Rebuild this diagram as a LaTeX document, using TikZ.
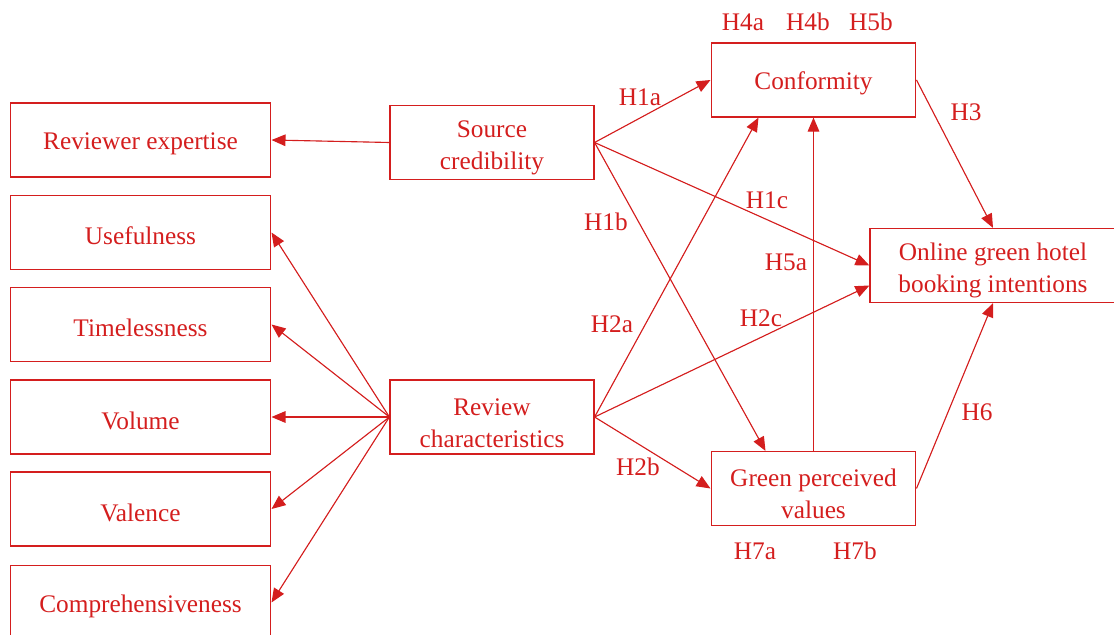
\documentclass[tikz,border=0pt]{standalone}
\usepackage{fontspec}
\setmainfont{Liberation Serif}
\usetikzlibrary{arrows.meta,positioning,calc}
\definecolor{diagred}{RGB}{212,30,30}
\newcommand\diagfont{\fontsize{18}{22.8}\selectfont}
\tikzset{
  >={Triangle[length=3.5mm,width=2.9mm]},
  box/.style={draw=diagred,text=diagred,line width=0.8pt,inner sep=0pt,
    minimum width=#1,minimum height=1.85cm,align=center,font=\diagfont,
    execute at begin node={\rule{0pt}{17.5pt}}},
  box/.default=6.52cm,
  twoline/.style={execute at begin node={\rule{0pt}{43pt}}},
  flow/.style={->,line width=0.8pt,draw=diagred,fill=diagred},
  hyp/.style={text=diagred,font=\diagfont,inner sep=0pt},
}
\begin{document}
\begin{tikzpicture}[x=0.025cm,y=-0.025cm]
    \useasboundingbox (0,0) rectangle (1114,635);
    % measurement items
    \node[box] (expert) at (140.5,140) {Reviewer expertise};
    \node[box] (useful) at (140.5,232.5) {Usefulness};
    \node[box] (timeless) at (140.5,324.5) {Timelessness};
    \node[box] (volume) at (140.5,417) {Volume};
    \node[box] (valence) at (140.5,509) {Valence};
    \node[box] (compre) at (140.5,602.5) {Comprehensiveness};
    % constructs
    \node[box=5.1cm,twoline] (src) at (492,142.5) {Source\\credibility};
    \node[box=5.1cm,twoline] (revc) at (492,417) {Review\\characteristics};
    \node[box=5.12cm] (conf) at (813.5,80) {Conformity};
    \node[box=5.12cm,twoline] (green) at (813.5,488.5) {Green perceived\\values};
    \node[box=6.15cm,twoline] (online) at (993,265.5) {Online green hotel\\booking intentions};
    % hypotheses
    \node[hyp] (h4a) at (743,22) {H4a}; \node[hyp] (h4b) at (808,22) {H4b}; \node[hyp] (h5b) at (871,22) {H5b};
    \node[hyp] (h1a) at (640,97) {H1a};
    \node[hyp] (h3) at (966,112) {H3};
    \node[hyp] (h1c) at (767,200) {H1c};
    \node[hyp] (h1b) at (606,222) {H1b};
    \node[hyp] (h5a) at (786,262) {H5a};
    \node[hyp] (h2c) at (761,318) {H2c};
    \node[hyp] (h2a) at (612,324) {H2a};
    \node[hyp] (h6) at (977,412) {H6};
    \node[hyp] (h2b) at (638,467) {H2b};
    \node[hyp] (h7a) at (755,551) {H7a}; \node[hyp] (h7b) at (855,551) {H7b};
    % paths
    \draw[flow] (src.west) -- (expert.east);
    \foreach \item in {useful,timeless,volume,valence,compre} \draw[flow] (revc.west) -- (\item.east);
    \draw[flow] (src.east) -- (conf.west);
    \draw[flow] (src.east) -- (online.west);
    \draw[flow] (src.east) -- ($(green.north)+(-48,0)$);
    \draw[flow] (revc.east) -- ($(conf.south)+(-55,0)$);
    \draw[flow] (revc.east) -- ($(online.west)+(0,20)$);
    \draw[flow] (revc.east) -- (green.west);
    \draw[flow] (green.north) -- (conf.south);
    \draw[flow] (conf.east) -- (online.north);
    \draw[flow] (green.east) -- (online.south);
  \end{tikzpicture}
\end{document}
